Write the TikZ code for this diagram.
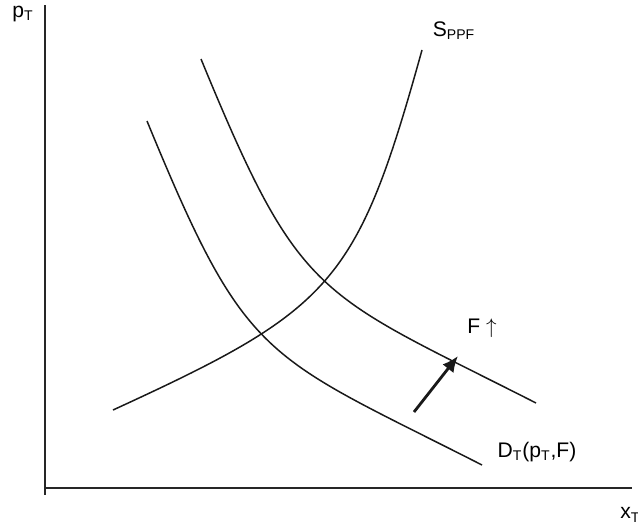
\documentclass[tikz,border=0pt]{standalone}
\usepackage{fontspec}
\setmainfont{Liberation Sans}
\usepackage{tikz}
\usetikzlibrary{arrows.meta}

\begin{document}
\begin{tikzpicture}[
        x=0.02cm, y=-0.02cm,
        axis/.style={line width=1.1pt, black!85},
        curve/.style={line width=0.85pt, black!90},
        shiftarrow/.style={-{Latex[length=3.2mm, width=2.8mm]}, line width=1.6pt, black!90},
        lbl/.style={font=\fontsize{12}{14}\selectfont, inner sep=0pt}
    ]
        \useasboundingbox (0,0) rectangle (638,524);

        % Axes
        \coordinate (ytop) at (45,5);
        \coordinate (ybot) at (45,495);
        \coordinate (origin) at (45,488);
        \coordinate (xend) at (632,488);
        \draw [axis] (ytop) -- (ybot);
        \draw [axis] (origin) -- (xend);

        % Curves
        \coordinate (s0) at (113,410);
        \coordinate (s1) at (422,50);
        \draw [curve] (s0) .. controls (333,309) and (357,284) .. (s1);
        \coordinate (d0) at (147,121);
        \coordinate (d1) at (482,465);
        \draw [curve] (d0) .. controls (247,364) and (262,353) .. (d1);
        \coordinate (e0) at (201,59);
        \coordinate (e1) at (536,403);
        \draw [curve] (e0) .. controls (301,302) and (316,291) .. (e1);

        % Shift of demand
        \coordinate (shiftfrom) at (414,412);
        \coordinate (shiftto) at (458,356);
        \draw [shiftarrow] (shiftfrom) -- (shiftto);

        % Labels
        \node (pT) [lbl] at (23,14) {p\textsubscript{T}};
        \node (sppf) [lbl] at (454,31) {S\textsubscript{PPF}};
        \node (fup) [lbl] at (482,328) {F $\uparrow$};
        \node (dT) [lbl] at (537,452) {D\textsubscript{T}(p\textsubscript{T},F)};
        \node (xT) [lbl, anchor=west] at (620,515) {x\textsubscript{T}};
    \end{tikzpicture}
\end{document}
